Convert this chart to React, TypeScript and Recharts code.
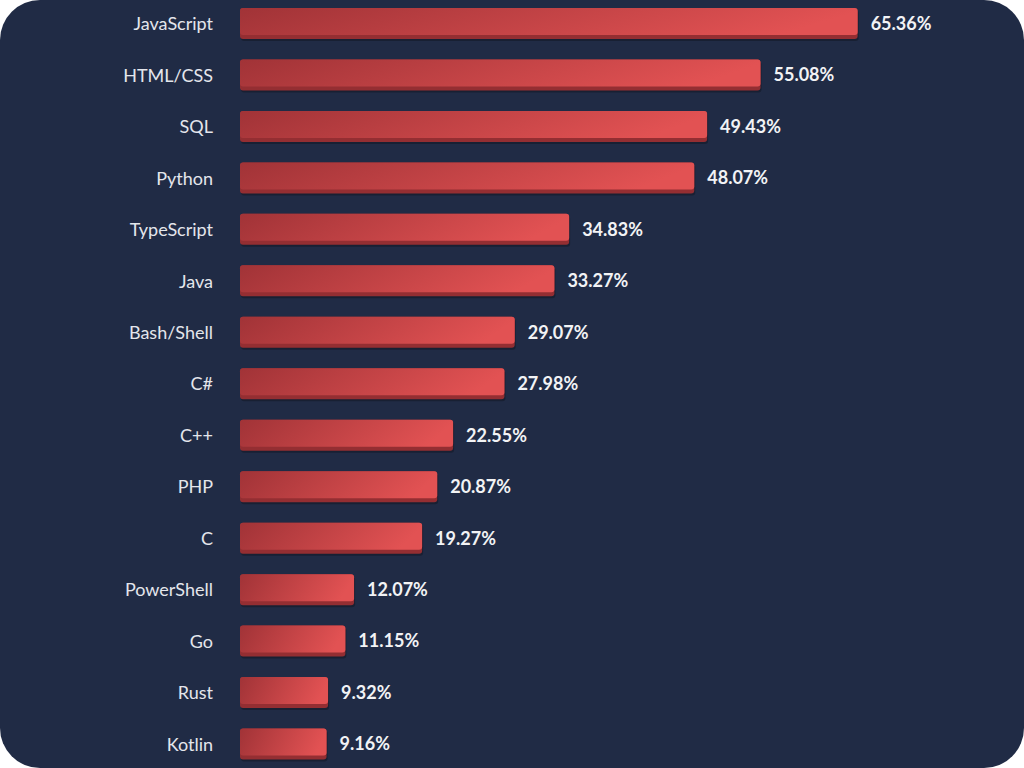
import { BarChart, Bar, XAxis, YAxis, LabelList } from 'recharts'

const languages = [
  'JavaScript', 'HTML/CSS', 'SQL', 'Python', 'TypeScript', 'Java', 'Bash/Shell', 'C#',
  'C++', 'PHP', 'C', 'PowerShell', 'Go', 'Rust', 'Kotlin',
]
const shares = [
  65.36, 55.08, 49.43, 48.07, 34.83, 33.27, 29.07, 27.98,
  22.55, 20.87, 19.27, 12.07, 11.15, 9.32, 9.16,
]

const chartData = languages.map((name, i) => ({ name, value: shares[i] }))

const RaisedBar = (props: any) => {
  const { x, y, width, height } = props
  if (!width || width <= 0) return null
  const edge = 4
  return (
    <g>
      <rect x={x + 1} y={y + 2} width={width} height={height} rx={3} fill="rgba(0,0,0,0.25)" />
      <rect x={x} y={y} width={width} height={height} rx={3} fill="#942e32" />
      <rect x={x} y={y} width={width} height={height - edge} rx={3} fill="url(#barFace)" />
    </g>
  )
}

const LangTick = (props: any) => {
  const { y, payload } = props
  return (
    <text
      x={213}
      y={y}
      dy="0.36em"
      textAnchor="end"
      fill="#e4e6ec"
      fontSize={18}
      fontFamily="Lato, 'Noto Sans', sans-serif"
    >
      {payload.value}
    </text>
  )
}

export default function App() {
  return (
    <div
      style={{
        position: 'absolute',
        left: 0,
        top: 0,
        width: 1024,
        height: 768,
        background: '#202b45',
        borderRadius: 40,
        overflow: 'hidden',
      }}
    >
      <div style={{ position: 'absolute', left: 0, top: -2 }}>
        <BarChart
          width={1024}
          height={772}
          data={chartData}
          layout="vertical"
          margin={{ top: 0, right: 28, bottom: 0, left: 0 }}
        >
          <defs>
            <linearGradient id="barFace" x1="0" y1="0" x2="1" y2="0.15">
              <stop offset="0%" stopColor="#a13337" />
              <stop offset="100%" stopColor="#e25253" />
            </linearGradient>
          </defs>
          <XAxis type="number" domain={[0, 80]} hide />
          <YAxis
            type="category"
            dataKey="name"
            width={240}
            axisLine={false}
            tickLine={false}
            tick={<LangTick />}
            interval={0}
          />
          <Bar dataKey="value" barSize={31} shape={<RaisedBar />} isAnimationActive={false}>
            <LabelList
              dataKey="value"
              position="right"
              offset={13}
              formatter={(v: any) => `${Number(v).toFixed(2)}%`}
              fill="#f2f3f5"
              fontSize={18}
              fontWeight={700}
              fontFamily="Lato, 'Noto Sans', sans-serif"
            />
          </Bar>
        </BarChart>
      </div>
    </div>
  )
}
